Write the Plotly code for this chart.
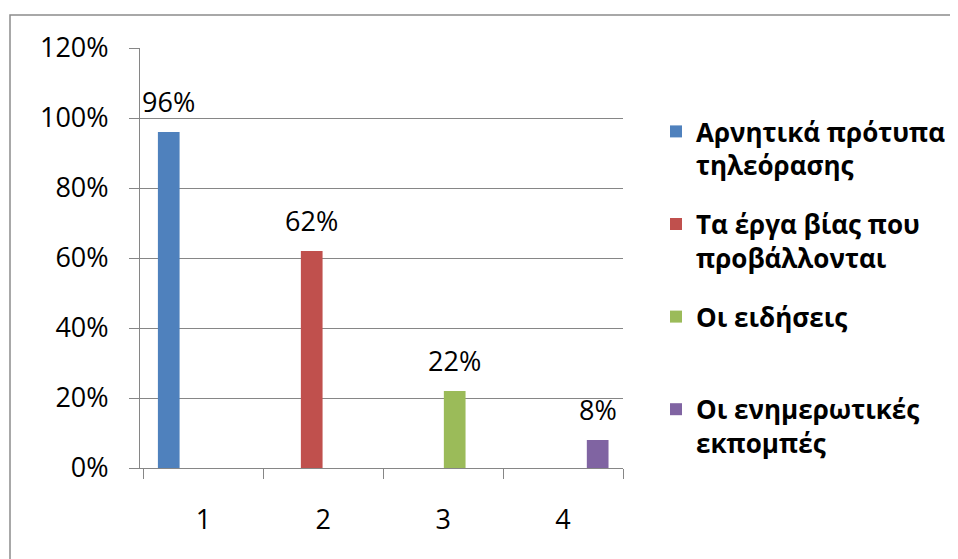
import plotly.graph_objects as go

categories = ["1", "2", "3", "4"]
series_names = [
    "Αρνητικά πρότυπα<br>τηλεόρασης",
    "Τα έργα βίας που<br>προβάλλονται",
    "Οι ειδήσεις<br> ",
    "Οι ενημερωτικές<br>εκπομπές",
]
series_values = [
    [0.96, None, None, None],
    [None, 0.62, None, None],
    [None, None, 0.22, None],
    [None, None, None, 0.08],
]
colors = ["#4F81BD", "#C0504D", "#9BBB59", "#8064A2"]
y_ticks = [0, 0.2, 0.4, 0.6, 0.8, 1.0, 1.2]

W, H = 958, 559
OFF = 8  # page body margin
ML, MT = 140 - OFF, 48 - OFF
MR, MB = W - (623 - OFF), H - (468 - OFF)
plot_w = W - ML - MR
plot_h = H - MT - MB
BARGAP = 0.23
GROUPGAP = 0.06

FONT = "Open Sans"
GRID = "#868686"

fig = go.Figure()
for name, vals, col in zip(series_names, series_values, colors):
    fig.add_trace(
        go.Bar(
            x=categories,
            y=vals,
            name=name,
            marker_color=col,
            marker_line_width=0,
            legendgroup=name,
        )
    )

# data labels above each bar
cat_w = plot_w / len(categories)
slot_w = cat_w * (1 - BARGAP) / len(series_values)
for k, vals in enumerate(series_values):
    for i, v in enumerate(vals):
        if v is None:
            continue
        fig.add_annotation(
            x=i,
            y=v,
            text=f"{v:.0%}",
            showarrow=False,
            yanchor="bottom",
            xshift=(k - (len(series_values) - 1) / 2) * slot_w,
            yshift=10,
            font=dict(family=FONT, size=27, color="black"),
        )

# outer chart border
fig.add_shape(
    type="rect",
    xref="paper",
    yref="paper",
    x0=(10 - OFF - ML) / plot_w,
    x1=(990 - ML) / plot_w,
    y0=(H - MB - 590) / plot_h,
    y1=(H - MB - 15 + OFF) / plot_h,
    line=dict(color="#8c8c8c", width=1.5),
    fillcolor="rgba(0,0,0,0)",
)

fig.update_layout(
    width=W,
    height=H,
    margin=dict(l=ML, r=MR, t=MT, b=MB, pad=0, autoexpand=False),
    paper_bgcolor="white",
    plot_bgcolor="white",
    barmode="group",
    bargap=BARGAP,
    bargroupgap=GROUPGAP,
    font=dict(family=FONT, size=27, color="black"),
    legend=dict(
        x=(656 - OFF - ML) / plot_w,
        xanchor="left",
        y=(H - MB - 108 + OFF) / plot_h,
        yanchor="top",
        valign="top",
        tracegroupgap=22,
        font=dict(family=FONT, size=26, color="black", weight="bold"),
        bgcolor="rgba(0,0,0,0)",
    ),
    xaxis=dict(
        type="category",
        showgrid=False,
        showline=True,
        linecolor=GRID,
        linewidth=1,
        ticks="outside",
        tickson="boundaries",
        ticklen=10,
        tickcolor=GRID,
        ticklabelstandoff=28,
        tickfont=dict(family=FONT, size=27),
    ),
    yaxis=dict(
        range=[0, 1.2],
        tickvals=y_ticks,
        tickformat=".0%",
        showgrid=True,
        gridcolor=GRID,
        gridwidth=1,
        showline=True,
        linecolor=GRID,
        linewidth=1,
        ticks="outside",
        ticklen=10,
        tickcolor=GRID,
        ticklabelstandoff=15,
        tickfont=dict(family=FONT, size=27),
        zeroline=False,
    ),
)

fig.write_html("out.html")
